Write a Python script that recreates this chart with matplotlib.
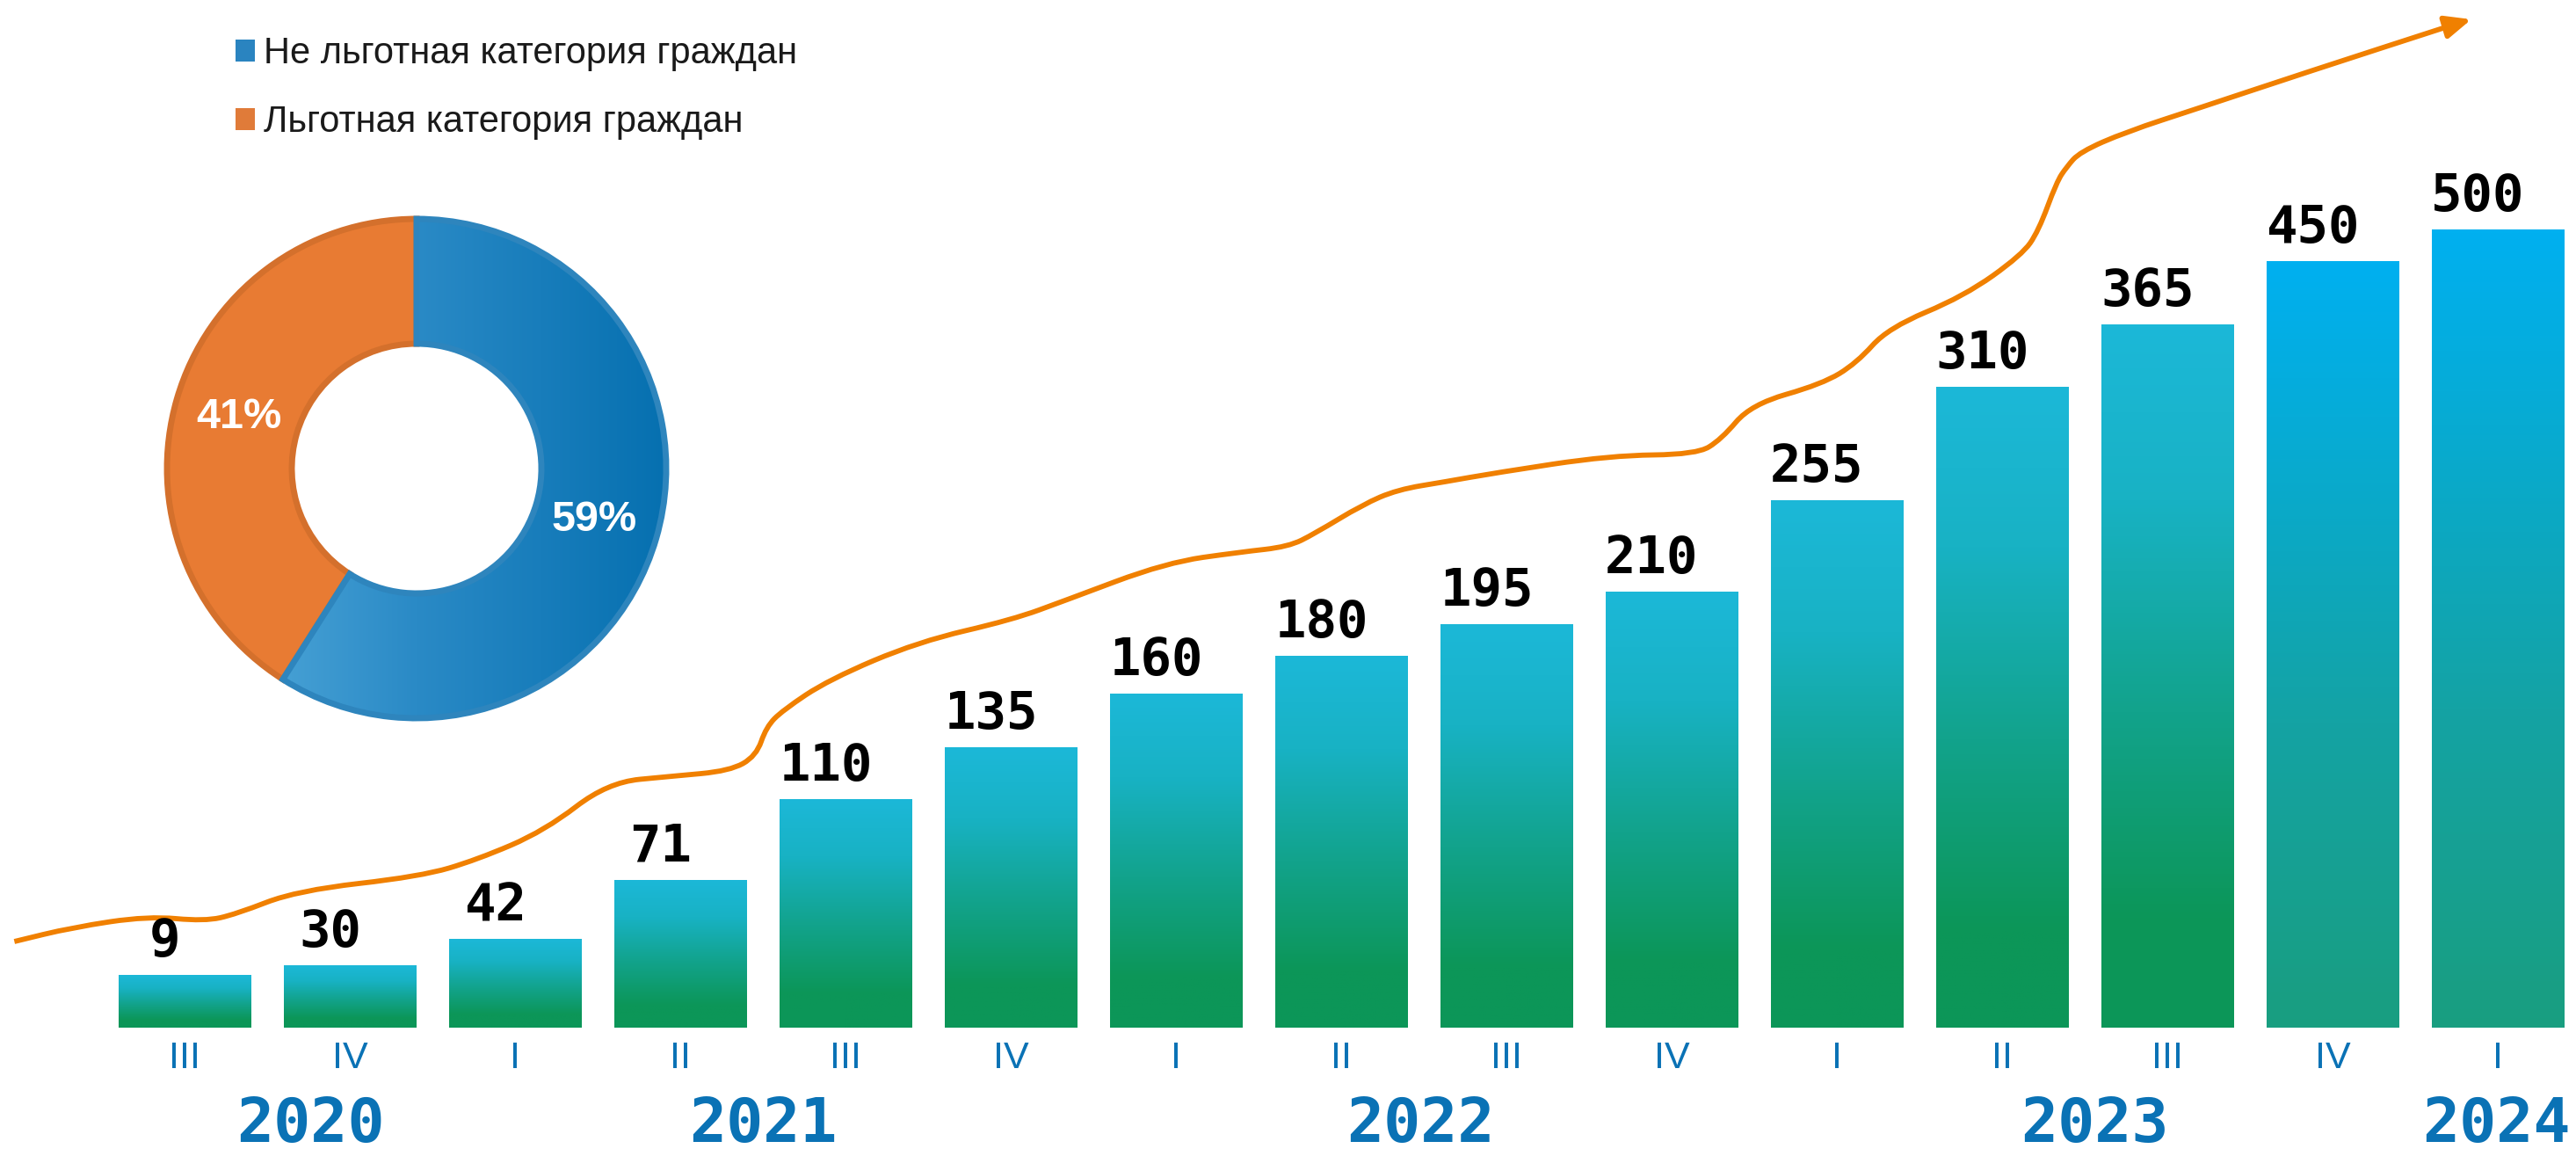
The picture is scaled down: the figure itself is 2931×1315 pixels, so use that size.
import numpy as np
import matplotlib
matplotlib.use("Agg")
import matplotlib.pyplot as plt
from matplotlib.colors import LinearSegmentedColormap
from matplotlib.patches import Patch, PathPatch
from matplotlib.path import Path

# numbers printed above the bars
values = [9, 30, 42, 71, 110, 135, 160, 180, 195, 210, 255, 310, 365, 450, 500]
# bar heights as they are drawn in the picture (not proportional to the numbers)
bar_heights = [60, 71, 101, 168, 260, 319, 380, 423, 459, 496, 600, 729, 800, 872, 908]
quarters = ["III", "IV", "I", "II", "III", "IV", "I", "II", "III", "IV", "I", "II", "III", "IV", "I"]
years = ["2020", "2021", "2022", "2023", "2024"]
year_pos = [0.76, 3.5, 7.48, 11.56, 13.99]

# hand-drawn trend line (bar index, drawn height)
trend_x = [-1.03, -0.68, -0.22, 0.12, 0.31, 0.68, 1.43, 1.77, 2.18, 2.56, 2.95, 3.30,
           3.46, 3.52, 3.62, 3.90, 4.44, 5.01, 5.33, 5.94, 6.39, 6.68, 6.84, 7.13,
           7.34, 7.63, 7.93, 8.63, 9.15, 9.30, 9.48, 9.91, 10.12, 10.31, 10.77, 11.12,
           11.22, 11.33, 11.39, 11.47, 11.75, 12.19, 12.83, 13.75, 13.84]
trend_y = [98, 114, 127, 121, 129, 156, 172, 191, 224, 279, 286, 292,
           309, 342, 361, 396, 439, 464, 486, 529, 541, 547, 562, 595,
           612, 621, 631, 651, 652, 669, 709, 732, 756, 796, 832, 879,
           906, 962, 979, 996, 1019, 1046, 1086, 1142, 1147]

share_labels = ["Не льготная категория граждан", "Льготная категория граждан"]
share_values = [59, 41]

BLUE_TXT = "#0a72b5"
ORANGE = "#f08000"

fig = plt.figure(figsize=(29.31, 13.15), dpi=100)
fig.patch.set_facecolor("white")

# ---- bars ----
ax = fig.add_axes([0, 0, 1, 1])
ax.axis("off")

cmap_main = LinearSegmentedColormap.from_list(
    "bars", [(0, "#0c9658"), (0.15, "#0c9658"), (0.45, "#12a38c"), (0.75, "#18b2c4"), (1, "#1cb8d8")])
cmap_last = LinearSegmentedColormap.from_list(
    "bars2", [(0, "#199e80"), (0.4, "#14a3a4"), (0.8, "#06acd8"), (1, "#00b0f0")])

x = np.arange(len(values))
bars = ax.bar(x, bar_heights, width=0.8, color="none", edgecolor="none")
grad = np.linspace(0, 1, 256).reshape(-1, 1)
for i, b in enumerate(bars):
    cm = cmap_last if i >= len(values) - 2 else cmap_main
    ax.imshow(grad, extent=[b.get_x(), b.get_x() + b.get_width(), 0, b.get_height()],
              origin="lower", aspect="auto", cmap=cm, zorder=2)
    ax.text(b.get_x() + b.get_width() / 2 - 0.12, b.get_height() + 21, str(values[i]),
            ha="center", va="baseline", fontsize=42.5, fontweight="bold",
            family="DejaVu Sans Mono", color="black", zorder=4)
    ax.text(b.get_x() + b.get_width() / 2, -46, quarters[i], ha="center", va="baseline",
            fontsize=31, family="Liberation Sans", color=BLUE_TXT)

for yr, p in zip(years, year_pos):
    ax.text(p, -130, yr, ha="center", va="baseline", fontsize=50.4, fontweight="bold",
            family="DejaVu Sans Mono", color=BLUE_TXT)

# trend line, smoothed with quadratic curves through the midpoints
pts = np.column_stack([trend_x[:-1], trend_y[:-1]])
verts = [pts[0], (pts[0] + pts[1]) / 2]
codes = [Path.MOVETO, Path.LINETO]
for i in range(1, len(pts) - 1):
    verts += [pts[i], (pts[i] + pts[i + 1]) / 2]
    codes += [Path.CURVE3, Path.CURVE3]
verts.append(pts[-1])
codes.append(Path.LINETO)
ax.add_patch(PathPatch(Path(verts, codes), fill=False, edgecolor=ORANGE, lw=4.2,
                       capstyle="butt", joinstyle="round", zorder=3))
ax.annotate("", xy=(trend_x[-1], trend_y[-1]), xytext=(trend_x[-2], trend_y[-2]),
            arrowprops=dict(arrowstyle="-|>,head_length=0.8,head_width=0.35", color=ORANGE,
                            lw=4.2, shrinkA=0, shrinkB=0, mutation_scale=22), zorder=3)

ax.set_xlim(-210 / 188, (2931 - 210) / 188)
ax.set_ylim(1169 - 1315, 1169)

# ---- donut ----
ax2 = fig.add_axes([(474 - 300) / 2931, (1315 - 533 - 300) / 1315, 600 / 2931, 600 / 1315])
wedges, _, autotexts = ax2.pie(
    share_values, colors=["#2a84c0", "#e87b33"], startangle=90, counterclock=False,
    autopct=lambda p: f"{round(p)}%", pctdistance=0.74,
    wedgeprops=dict(width=0.5, linewidth=5),
    textprops=dict(color="white", fontsize=35, fontweight="bold", family="Liberation Sans"))
wedges[0].set_edgecolor("#2e85bd")
wedges[1].set_edgecolor("#d4702c")

# horizontal gradient in the blue part
hgrad = np.linspace(0, 1, 256).reshape(1, -1)
cmap_donut = LinearSegmentedColormap.from_list("donut", ["#5db2e0", "#2a8ac6", "#0670b0"])
im = ax2.imshow(hgrad, extent=[-1, 1, -1, 1], cmap=cmap_donut, aspect="auto", zorder=1)
im.set_clip_path(wedges[0])
wedges[0].set_facecolor((0, 0, 0, 0))
wedges[0].set_zorder(2)
for t in autotexts:
    t.set_zorder(3)

ax2.set_xlim(-300 / 284, 300 / 284)
ax2.set_ylim(-300 / 284, 300 / 284)
ax2.axis("off")

# ---- legend ----
handles = [Patch(facecolor="#2a84c0"), Patch(facecolor="#e07b39")]
fig.legend(handles, share_labels, loc="upper left", bbox_to_anchor=(268 / 2931, 1 - 41 / 1315),
           frameon=False, prop=dict(family="Liberation Sans", size=30),
           labelcolor="#1a1a1a", handlelength=0.53, handleheight=0.53, handletextpad=0.25,
           labelspacing=0.92, borderpad=0, borderaxespad=0)

fig.savefig("out.png", dpi=100, facecolor="white")
